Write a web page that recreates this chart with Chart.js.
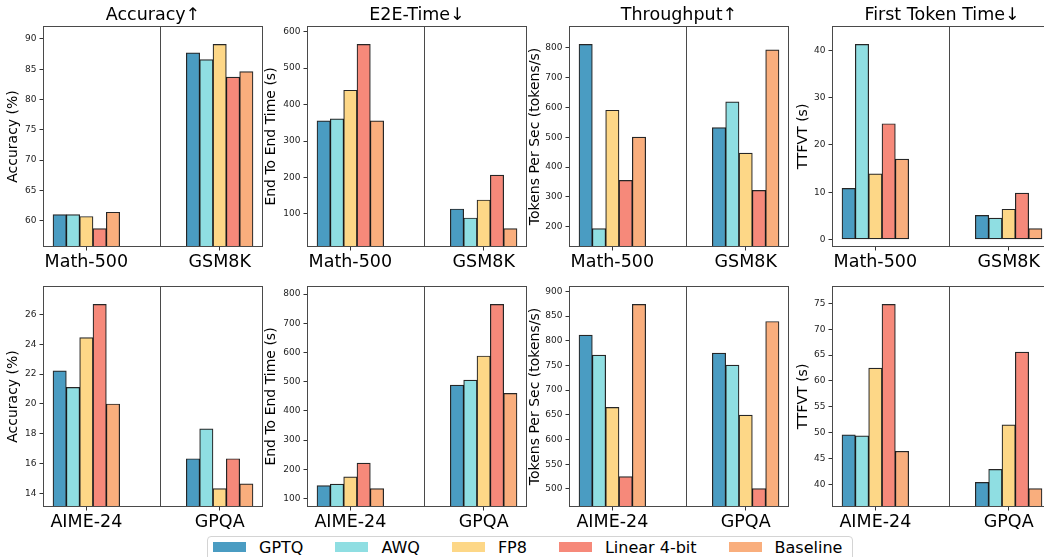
<!DOCTYPE html>
<html lang="en">
<head>
<meta charset="UTF-8">
<title>Quantization comparison</title>
<script src="https://cdn.jsdelivr.net/npm/chart.js"></script>
<style>
  html, body { margin: 0; padding: 0; background: #fff; overflow: hidden; }
  body { width: 1044px; height: 557px; position: relative; font-family: "DejaVu Sans", sans-serif; }
  .panel { position: absolute; }
  #legend {
    position: absolute; left: 207px; top: 536px; width: 646px; height: 30px;
    box-sizing: border-box; border: 1px solid #d4d4d4; border-radius: 4px;
    background: #fff; display: flex; padding: 1px 0 0 5px; z-index: 5;
  }
  .item { display: flex; flex-shrink: 0; white-space: nowrap; align-items: center; height: 18px; margin-right: 32px; font-size: 16px; color: #000; }
  .sw { width: 33px; height: 10px; margin-right: 13px; flex-shrink: 0; }
</style>
</head>
<body>
<div id="legend"></div>
<script>
// --- data ---
const methods = ['GPTQ', 'AWQ', 'FP8', 'Linear 4-bit', 'Baseline'];
const colors = ['#4a9cc2', '#8fdee2', '#fdd787', '#f6897a', '#f9ae7d'];

const groupsTop = ['Math-500', 'GSM8K'];
const groupsBottom = ['AIME-24', 'GPQA'];

// one pair per method: [first group, second group]
const accuracyTop = [[61.0, 87.7], [61.0, 86.6], [60.7, 89.1], [58.7, 83.7], [61.4, 84.6]];
const e2eTop = [[355.5, 113.7], [361, 89], [439.4, 138.3], [565, 206.8], [355.5, 59.9]];
const throughputTop = [[810, 532], [194.4, 617.8], [590, 446.7], [355.6, 322], [500, 792]];
const ttftTop = [[10.8, 5.1], [41.3, 4.5], [13.9, 6.4], [24.5, 9.8], [17.0, 2.3]];

const accuracyBottom = [[22.22, 16.33], [21.11, 18.33], [24.44, 14.33], [26.67, 16.33], [20.0, 14.65]];
const e2eBottom = [[144.5, 488.6], [149, 505.7], [174, 588], [221, 764.6], [134, 460]];
const throughputBottom = [[811.5, 775], [771, 750.7], [665, 649.5], [525, 500.7], [873.5, 839]];
const ttftBottom = [[49.6, 40.4], [49.4, 42.9], [62.5, 51.5], [74.8, 65.6], [46.4, 39.2]];

const titles = ['Accuracy↑', 'E2E-Time↓', 'Throughput↑', 'First Token Time↓'];
const yLabels = ['Accuracy (%)', 'End To End Time (s)', 'Tokens Per Sec (tokens/s)', 'TTFVT (s)'];
const stepsTop = [5, 100, 100, 10];
const stepsBottom = [2, 100, 50, 5];

// --- layout ---
const FONT = '"DejaVu Sans", sans-serif';
const PLOT_W = 220, PLOT_H = 221, TOP_PAD = 26, X_H = 34, RIGHT_PAD = 6;
const plotLefts = [43, 307, 569, 832];
const canvasLefts = [5, 263, 527, 795];
const plotTops = [26, 286];
const BAR_W = 0.1, SPLIT = 0.55;

Chart.defaults.font.family = FONT;
Chart.defaults.animation = false;

const framePlugin = {
  id: 'frame',
  afterDatasetsDraw(chart, args, opts) {
    const { ctx, chartArea: a } = chart;
    const sx = chart.scales.x.getPixelForValue(SPLIT);
    ctx.save();
    ctx.strokeStyle = '#4a4a4a';
    ctx.lineWidth = 1;
    ctx.beginPath();
    ctx.moveTo(Math.round(sx) + 0.5, a.top);
    ctx.lineTo(Math.round(sx) + 0.5, a.bottom);
    ctx.stroke();
    ctx.strokeRect(a.left + 0.5, a.top + 0.5, a.width - 1, a.height - 1);
    if (opts.text) {
      ctx.fillStyle = '#000';
      ctx.font = '17.5px ' + FONT;
      ctx.textAlign = 'center';
      ctx.textBaseline = 'middle';
      ctx.fillText(opts.text, (a.left + a.right) / 2, a.top - 11);
    }
    ctx.restore();
  }
};

function makePanel(row, col, groups, values, step) {
  const left = canvasLefts[col];
  const yW = plotLefts[col] - left;
  const w = yW + PLOT_W + RIGHT_PAD;
  const h = TOP_PAD + PLOT_H + X_H;

  const div = document.createElement('div');
  div.className = 'panel';
  div.style.left = left + 'px';
  div.style.top = (plotTops[row] - TOP_PAD) + 'px';
  const canvas = document.createElement('canvas');
  canvas.width = w;
  canvas.height = h;
  div.appendChild(canvas);
  document.body.appendChild(div);

  const all = values.flat();
  const lo = Math.min(...all), hi = Math.max(...all);
  const margin = 0.1 * (hi - lo);

  new Chart(canvas, {
    type: 'bar',
    data: {
      datasets: methods.map((m, i) => ({
        label: m,
        data: groups.map((g, gi) => ({ x: gi + (i - 2) * BAR_W, y: values[i][gi] })),
        backgroundColor: colors[i],
        borderColor: 'rgba(0,0,0,0.85)',
        borderWidth: 1.2,
        borderSkipped: false,
        grouped: false,
        barPercentage: 1,
        categoryPercentage: 1
      }))
    },
    options: {
      responsive: false,
      layout: { padding: { top: TOP_PAD, right: RIGHT_PAD, left: 0, bottom: 0 } },
      plugins: {
        legend: { display: false },
        tooltip: { enabled: false },
        frame: { text: row === 0 ? titles[col] : '' }
      },
      scales: {
        x: {
          type: 'linear',
          min: -0.325,
          max: 1.325,
          offset: false,
          afterBuildTicks: s => { s.ticks = groups.map((g, i) => ({ value: i })); },
          afterFit: s => { s.height = X_H; },
          ticks: {
            callback: v => groups[v],
            font: { size: 17.5 },
            color: '#000',
            padding: 1,
            maxRotation: 0,
            autoSkip: false
          },
          grid: { offset: false, drawOnChartArea: false, tickLength: 3.5, color: '#333' },
          border: { display: false }
        },
        y: {
          min: lo - margin,
          max: hi + margin,
          afterBuildTicks: s => {
            const t = [];
            for (let v = Math.ceil(s.min / step) * step; v <= s.max + 1e-9; v += step) {
              t.push({ value: +v.toFixed(6) });
            }
            s.ticks = t;
          },
          afterFit: s => { s.width = yW; },
          ticks: { font: { size: 9 }, color: '#222', padding: 3 },
          grid: { drawOnChartArea: false, tickLength: 3.5, color: '#333' },
          border: { display: false },
          title: { display: true, text: yLabels[col], font: { size: 14 }, color: '#000', padding: 0 }
        }
      }
    },
    plugins: [framePlugin]
  });
}

makePanel(0, 0, groupsTop, accuracyTop, stepsTop[0]);
makePanel(0, 1, groupsTop, e2eTop, stepsTop[1]);
makePanel(0, 2, groupsTop, throughputTop, stepsTop[2]);
makePanel(0, 3, groupsTop, ttftTop, stepsTop[3]);
makePanel(1, 0, groupsBottom, accuracyBottom, stepsBottom[0]);
makePanel(1, 1, groupsBottom, e2eBottom, stepsBottom[1]);
makePanel(1, 2, groupsBottom, throughputBottom, stepsBottom[2]);
makePanel(1, 3, groupsBottom, ttftBottom, stepsBottom[3]);

// legend
const legend = document.getElementById('legend');
methods.forEach((m, i) => {
  const item = document.createElement('div');
  item.className = 'item';
  const sw = document.createElement('span');
  sw.className = 'sw';
  sw.style.background = colors[i];
  const label = document.createElement('span');
  label.textContent = m;
  item.appendChild(sw);
  item.appendChild(label);
  legend.appendChild(item);
});
</script>
</body>
</html>
